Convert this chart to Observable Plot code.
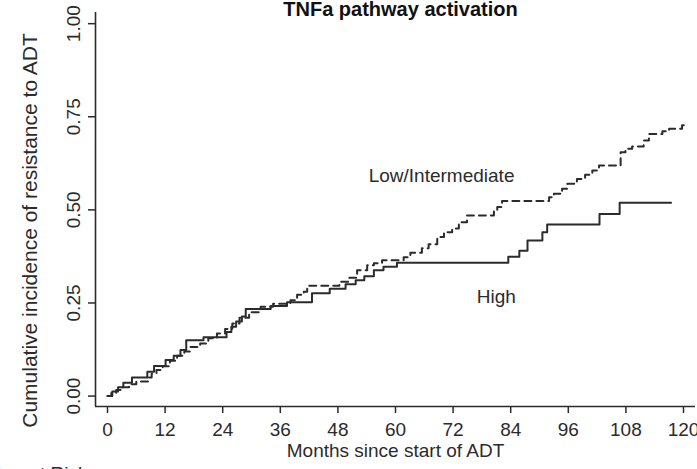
<!DOCTYPE html>
<html>
<head>
<meta charset="utf-8">
<script src="https://cdn.jsdelivr.net/npm/d3@7"></script>
<script src="https://cdn.jsdelivr.net/npm/@observablehq/plot@0.6"></script>
<style>
  html, body { margin: 0; padding: 0; background: #fff; overflow: hidden; }
</style>
</head>
<body>
<div id="chart"></div>
<script>
// Cumulative incidence of resistance to ADT by TNFa pathway activation group
// (step functions: month at which each step starts, and the level reached)

const highMonths = [0, 1.0, 2.2, 3.3, 5.1, 8.3, 9.7, 12.1, 13.8, 15.2, 16.4, 20.0, 24.8, 25.8, 26.8, 28.0, 28.8, 34.0, 37.4, 42.6, 46.3, 49.6, 51.7, 53.5, 55.5, 57.5, 60.3, 83.5, 85.8, 87.5, 90.6, 91.6, 102.5, 106.7, 117.4];
const highIncidence = [0, 0.012, 0.024, 0.036, 0.050, 0.065, 0.081, 0.097, 0.108, 0.124, 0.150, 0.158, 0.172, 0.186, 0.200, 0.214, 0.234, 0.242, 0.252, 0.276, 0.288, 0.300, 0.311, 0.322, 0.338, 0.347, 0.358, 0.374, 0.390, 0.418, 0.440, 0.461, 0.489, 0.519, 0.519];

const lowMonths = [0, 0.8, 1.8, 3.0, 4.5, 6.0, 8.5, 9.2, 10.2, 11.5, 13.0, 14.5, 16.0, 17.3, 19.3, 21.0, 22.8, 24.5, 26.0, 27.5, 29.5, 31.9, 34.5, 38.1, 39.5, 40.9, 41.6, 48.3, 50.4, 52.0, 54.1, 55.5, 57.2, 61.7, 63.1, 65.5, 66.9, 68.7, 70.1, 71.8, 73.2, 74.9, 80.5, 81.2, 82.2, 92.0, 93.0, 94.7, 95.8, 97.8, 99.5, 101.0, 102.4, 106.9, 107.9, 109.3, 111.7, 112.8, 115.6, 117.0, 119.7, 120.3];
const lowIncidence = [0, 0.008, 0.016, 0.024, 0.032, 0.039, 0.050, 0.060, 0.070, 0.080, 0.095, 0.108, 0.120, 0.132, 0.141, 0.155, 0.168, 0.180, 0.195, 0.210, 0.225, 0.240, 0.248, 0.257, 0.272, 0.280, 0.296, 0.307, 0.318, 0.338, 0.351, 0.357, 0.365, 0.373, 0.385, 0.397, 0.408, 0.427, 0.440, 0.450, 0.467, 0.485, 0.500, 0.508, 0.524, 0.534, 0.543, 0.557, 0.570, 0.583, 0.594, 0.606, 0.619, 0.655, 0.664, 0.670, 0.686, 0.704, 0.711, 0.718, 0.727, 0.727];

const groupNames = ["High", "Low/Intermediate"];
const xTicks = [0, 12, 24, 36, 48, 60, 72, 84, 96, 108, 120];
const yTicks = [0, 0.25, 0.5, 0.75, 1];

// curve labels: group name with the month / incidence it sits at
const labelMonths = [81, 69.6];
const labelIncidence = [0.266, 0.592];

const titleText = "TNFa pathway activation";
const xTitle = "Months since start of ADT";
const yTitle = "Cumulative incidence of resistance to ADT";
const riskTitle = "Number at Risk";

const high = highMonths.map((m, i) => ({month: m, value: highIncidence[i]}));
const low = lowMonths.map((m, i) => ({month: m, value: lowIncidence[i]}));
const labels = groupNames.map((g, i) => ({name: g, month: labelMonths[i], value: labelIncidence[i]}));

const xDomain = [-2.5, 122.5];
const yDomain = [-0.028, 1.03];
const ink = "#2b2b2b";

const chart = Plot.plot({
  width: 697,
  height: 469,
  marginLeft: 95,
  marginRight: 2,
  marginTop: 12,
  marginBottom: 63,
  style: {fontFamily: "'Liberation Sans', Arial, sans-serif", fontSize: "19px", color: ink, background: "#fff"},
  x: {domain: xDomain, axis: null},
  y: {domain: yDomain, axis: null},
  marks: [
    Plot.ruleX([xDomain[0]], {stroke: ink, strokeWidth: 1.6}),
    Plot.ruleY([yDomain[0]], {stroke: ink, strokeWidth: 1.6}),
    Plot.axisX(xTicks, {tickSize: 7, tickPadding: 9, label: null, strokeWidth: 1.5}),
    Plot.axisY(yTicks, {tickSize: 7, fill: "none", label: null, strokeWidth: 1.5}),
    Plot.text(yTicks, {y: d => d, text: d => d.toFixed(2), frameAnchor: "left", dx: -22, rotate: -90, textAnchor: "middle", fill: ink}),
    Plot.line(low, {x: "month", y: "value", curve: "step-after", stroke: ink, strokeWidth: 2, strokeDasharray: "7,5"}),
    Plot.line(high, {x: "month", y: "value", curve: "step-after", stroke: ink, strokeWidth: 2}),
    Plot.text(labels, {x: "month", y: "value", text: "name", fill: ink, fontSize: 19}),
    Plot.text([titleText], {frameAnchor: "top", dx: 5, dy: 3, lineAnchor: "bottom", fontWeight: "bold", fontSize: 20, fill: "#111"}),
    Plot.text([xTitle], {frameAnchor: "bottom", dy: 37, lineAnchor: "top", fill: ink}),
    Plot.text([yTitle], {frameAnchor: "left", dx: -65, dy: 21, rotate: -90, textAnchor: "middle", fontSize: 21, fill: ink}),
    Plot.text([riskTitle], {frameAnchor: "bottom-left", dx: -8, dy: 73, lineAnchor: "bottom", textAnchor: "end", fill: ink})
  ]
});

document.getElementById("chart").appendChild(chart);
</script>
</body>
</html>
